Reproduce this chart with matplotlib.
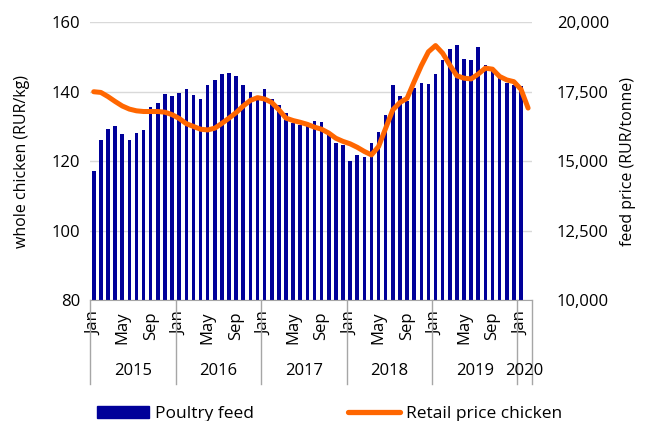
import numpy as np
import matplotlib.pyplot as plt
import matplotlib.transforms as mtransforms
from matplotlib.patches import Patch
from matplotlib.lines import Line2D

plt.rcParams['font.family'] = ['Open Sans', 'DejaVu Sans']
plt.rcParams['font.size'] = 12

# годы и месяцы (янв 2015 - фев 2020)
years = ['2015', '2016', '2017', '2018', '2019', '2020']
months_per_year = [12, 12, 12, 12, 12, 2]
month_names = ['Jan', 'Feb', 'Mar', 'Apr', 'May', 'Jun',
               'Jul', 'Aug', 'Sep', 'Oct', 'Nov', 'Dec']

# цена корма, руб/т (столбики), за фев 2020 данных нет
feed = [14660, 15760, 16150, 16250, 15990, 15760, 16030, 16110, 16960, 17080, 17410, 17340,
        17450, 17590, 17390, 17230, 17730, 17930, 18130, 18190, 18080, 17750, 17500, 17330,
        17590, 17250, 17030, 16730, 16360, 16310, 16250, 16460, 16400, 16060, 15650, 15590,
        14990, 15230, 15160, 15650, 16060, 16660, 17730, 17330, 17150, 17630, 17800, 17790,
        18140, 18650, 19040, 19190, 18680, 18630, 19100, 18460, 18230, 18030, 17800, 17750,
        17690]

# розничная цена курицы, руб/кг (линия)
chicken = [140.0, 139.8, 138.6, 137.2, 135.9, 135.0, 134.5, 134.3, 134.3, 134.3, 134.1, 133.4,
           132.3, 130.8, 130.0, 129.2, 129.0, 129.5, 130.9, 132.4, 134.0, 135.9, 137.5, 138.3,
           137.9, 136.9, 134.8, 132.4, 131.7, 131.2, 130.6, 129.8, 129.2, 128.1, 126.6, 125.7,
           125.0, 124.0, 122.8, 121.8, 124.2, 129.5, 134.8, 136.9, 138.1, 142.9, 147.5, 151.5,
           153.3, 151.1, 147.7, 144.6, 143.9, 143.7, 145.1, 146.8, 146.5, 144.4, 143.4, 142.9,
           140.7, 135.3]

bar_color = '#000099'
line_color = '#ff6600'
grey = '#a6a6a6'

n = len(chicken)
x = np.arange(n)

fig = plt.figure(figsize=(6.46, 4.21), dpi=100)
ax = fig.add_axes([0.1396, 0.2874, 0.6834, 0.6596])
ax2 = ax.twinx()

# столбики - правая ось
ax2.bar(x[:len(feed)], feed, width=0.5, color=bar_color, zorder=2)
ax2.set_ylim(10000, 20000)
ax2.set_yticks(np.arange(10000, 20001, 2500))
ax2.yaxis.set_major_formatter(lambda v, p: f'{v:,.0f}')
ax2.grid(axis='y', color='#d9d9d9', lw=1)
ax2.set_axisbelow(True)
ax2.tick_params(axis='y', length=0, pad=18)
ax2.set_ylabel('feed price (RUR/tonne)', fontsize=11.5)
ax2.yaxis.set_label_coords(1.218, 0.5)
ax2.yaxis.label.set_va('center')

# линия - левая ось, поверх столбиков
ax.plot(x, chicken, color=line_color, lw=3.6, solid_joinstyle='round', solid_capstyle='round')
ax.set_zorder(ax2.get_zorder() + 1)
ax.patch.set_visible(False)
ax.set_ylim(80, 160)
ax.set_yticks(range(80, 161, 20))
ax.set_xlim(-0.5, n - 0.5)
ax.tick_params(axis='y', length=0, pad=7)
ax.set_ylabel('whole chicken (RUR/kg)', fontsize=11.5)
ax.yaxis.set_label_coords(-0.154, 0.5)
ax.yaxis.label.set_va('center')

for a in (ax, ax2):
    for s in ['left', 'right', 'top']:
        a.spines[s].set_visible(False)
ax2.spines['bottom'].set_visible(False)
ax.spines['bottom'].set_color(grey)

# подписи месяцев
tick_pos = [i for i in range(n) if i % 12 in (0, 4, 8)]
ax.set_xticks(tick_pos, [month_names[i % 12] for i in tick_pos], rotation=90)
ax.tick_params(axis='x', length=0, pad=8)

# годы и разделители
trans = mtransforms.blended_transform_factory(ax.transData, ax.transAxes)
start = -0.5
ax.plot([start, start], [0, -0.302], transform=trans, color=grey, lw=1, clip_on=False)
for yr, cnt in zip(years, months_per_year):
    end = start + cnt
    ax.plot([end, end], [0, -0.302], transform=trans, color=grey, lw=1, clip_on=False)
    ax.text((start + end) / 2, -0.256, yr, transform=trans, ha='center', va='center')
    start = end

# легенда
handles = [Patch(color=bar_color),
           Line2D([], [], color=line_color, lw=3.8, solid_capstyle='round')]
fig.legend(handles, ['Poultry feed', 'Retail price chicken'], loc='center left',
           bbox_to_anchor=(97 / 646, 1 - 414 / 421), ncol=2, frameon=False,
           fontsize=12.5, handlelength=3.0, handleheight=0.7, handletextpad=0.35,
           columnspacing=5.4, borderpad=0, borderaxespad=0)

fig.savefig('out.png', dpi=100)
